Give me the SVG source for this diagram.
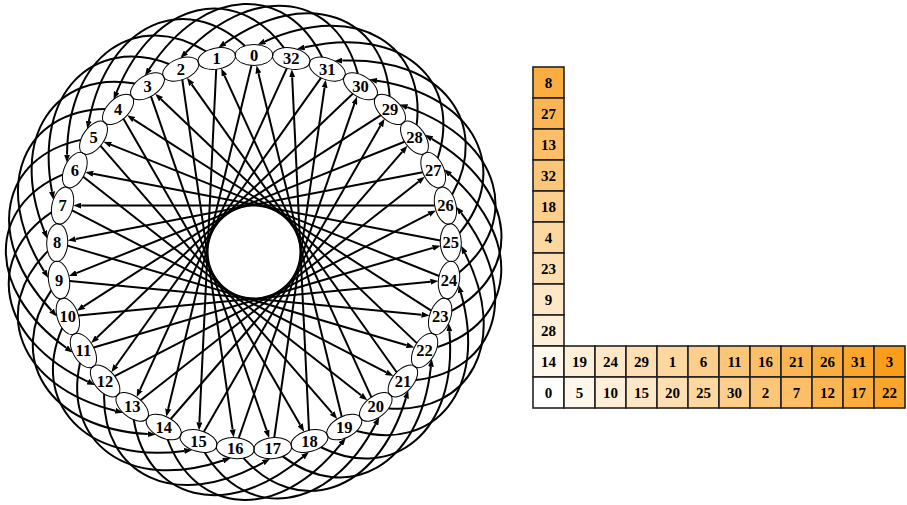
<svg xmlns="http://www.w3.org/2000/svg" width="907" height="505" viewBox="0 0 907 505">
<style>
.e{fill:none;stroke:#000;stroke-width:2;marker-end:url(#ah)}
.nd ellipse{fill:none;stroke:#000;stroke-width:1}
.n{font-family:"Liberation Serif","Times New Roman",serif;font-weight:bold;font-size:16.5px;text-anchor:middle;fill:#000}
.c rect{stroke:#222;stroke-width:1.6}
.t{font-family:"Liberation Serif","Times New Roman",serif;font-weight:bold;font-size:15px;text-anchor:middle;fill:#000}
.d0{fill:#FFFFFF}.d1{fill:#FFF7EC}.d2{fill:#FEEFD9}.d3{fill:#FEE7C6}.d4{fill:#FDDFB3}.d5{fill:#FDD7A0}.d6{fill:#FDCE8C}.d7{fill:#FCC679}.d8{fill:#FCBE66}.d9{fill:#FBB653}.d10{fill:#FBAE40}.d11{fill:#FAA62D}.d12{fill:#FA9E1A}
</style>
<defs>
<marker id="ah" markerWidth="8" markerHeight="6" refX="0" refY="3" orient="auto" markerUnits="userSpaceOnUse"><path d="M0,0L8,3L0,6z" fill="#000"/></marker>
</defs>
<rect width="907" height="505" fill="#fff"/>
<g id="connectors">
<path class="e" d="M251.47,65.41L168.15,408.92" transform="rotate(0 254 252)"/>
<path class="e" d="M251.47,65.41L168.15,408.92" transform="rotate(-10.9091 254 252)"/>
<path class="e" d="M251.47,65.41L168.15,408.92" transform="rotate(-21.8182 254 252)"/>
<path class="e" d="M251.47,65.41L168.15,408.92" transform="rotate(-32.7273 254 252)"/>
<path class="e" d="M251.47,65.41L168.15,408.92" transform="rotate(-43.6364 254 252)"/>
<path class="e" d="M251.47,65.41L168.15,408.92" transform="rotate(-54.5455 254 252)"/>
<path class="e" d="M251.47,65.41L168.15,408.92" transform="rotate(-65.4545 254 252)"/>
<path class="e" d="M251.47,65.41L168.15,408.92" transform="rotate(-76.3636 254 252)"/>
<path class="e" d="M251.47,65.41L168.15,408.92" transform="rotate(-87.2727 254 252)"/>
<path class="e" d="M251.47,65.41L168.15,408.92" transform="rotate(-98.1818 254 252)"/>
<path class="e" d="M251.47,65.41L168.15,408.92" transform="rotate(-109.0909 254 252)"/>
<path class="e" d="M251.47,65.41L168.15,408.92" transform="rotate(-120 254 252)"/>
<path class="e" d="M251.47,65.41L168.15,408.92" transform="rotate(-130.9091 254 252)"/>
<path class="e" d="M251.47,65.41L168.15,408.92" transform="rotate(-141.8182 254 252)"/>
<path class="e" d="M251.47,65.41L168.15,408.92" transform="rotate(-152.7273 254 252)"/>
<path class="e" d="M251.47,65.41L168.15,408.92" transform="rotate(-163.6364 254 252)"/>
<path class="e" d="M251.47,65.41L168.15,408.92" transform="rotate(-174.5455 254 252)"/>
<path class="e" d="M251.47,65.41L168.15,408.92" transform="rotate(-185.4545 254 252)"/>
<path class="e" d="M251.47,65.41L168.15,408.92" transform="rotate(-196.3636 254 252)"/>
<path class="e" d="M251.47,65.41L168.15,408.92" transform="rotate(-207.2727 254 252)"/>
<path class="e" d="M251.47,65.41L168.15,408.92" transform="rotate(-218.1818 254 252)"/>
<path class="e" d="M251.47,65.41L168.15,408.92" transform="rotate(-229.0909 254 252)"/>
<path class="e" d="M251.47,65.41L168.15,408.92" transform="rotate(-240 254 252)"/>
<path class="e" d="M251.47,65.41L168.15,408.92" transform="rotate(-250.9091 254 252)"/>
<path class="e" d="M251.47,65.41L168.15,408.92" transform="rotate(-261.8182 254 252)"/>
<path class="e" d="M251.47,65.41L168.15,408.92" transform="rotate(-272.7273 254 252)"/>
<path class="e" d="M251.47,65.41L168.15,408.92" transform="rotate(-283.6364 254 252)"/>
<path class="e" d="M251.47,65.41L168.15,408.92" transform="rotate(-294.5455 254 252)"/>
<path class="e" d="M251.47,65.41L168.15,408.92" transform="rotate(-305.4545 254 252)"/>
<path class="e" d="M251.47,65.41L168.15,408.92" transform="rotate(-316.3636 254 252)"/>
<path class="e" d="M251.47,65.41L168.15,408.92" transform="rotate(-327.2727 254 252)"/>
<path class="e" d="M251.47,65.41L168.15,408.92" transform="rotate(-338.1818 254 252)"/>
<path class="e" d="M251.47,65.41L168.15,408.92" transform="rotate(-349.0909 254 252)"/>
<path class="e" d="M244.82,45.8C185.84,-8.25 109.09,21.03 88.84,121" transform="rotate(0 254 252)"/>
<path class="e" d="M244.82,45.8C185.84,-8.25 109.09,21.03 88.84,121" transform="rotate(-10.9091 254 252)"/>
<path class="e" d="M244.82,45.8C185.84,-8.25 109.09,21.03 88.84,121" transform="rotate(-21.8182 254 252)"/>
<path class="e" d="M244.82,45.8C185.84,-8.25 109.09,21.03 88.84,121" transform="rotate(-32.7273 254 252)"/>
<path class="e" d="M244.82,45.8C185.84,-8.25 109.09,21.03 88.84,121" transform="rotate(-43.6364 254 252)"/>
<path class="e" d="M244.82,45.8C185.84,-8.25 109.09,21.03 88.84,121" transform="rotate(-54.5455 254 252)"/>
<path class="e" d="M244.82,45.8C185.84,-8.25 109.09,21.03 88.84,121" transform="rotate(-65.4545 254 252)"/>
<path class="e" d="M244.82,45.8C185.84,-8.25 109.09,21.03 88.84,121" transform="rotate(-76.3636 254 252)"/>
<path class="e" d="M244.82,45.8C185.84,-8.25 109.09,21.03 88.84,121" transform="rotate(-87.2727 254 252)"/>
<path class="e" d="M244.82,45.8C185.84,-8.25 109.09,21.03 88.84,121" transform="rotate(-98.1818 254 252)"/>
<path class="e" d="M244.82,45.8C185.84,-8.25 109.09,21.03 88.84,121" transform="rotate(-109.0909 254 252)"/>
<path class="e" d="M244.82,45.8C185.84,-8.25 109.09,21.03 88.84,121" transform="rotate(-120 254 252)"/>
<path class="e" d="M244.82,45.8C185.84,-8.25 109.09,21.03 88.84,121" transform="rotate(-130.9091 254 252)"/>
<path class="e" d="M244.82,45.8C185.84,-8.25 109.09,21.03 88.84,121" transform="rotate(-141.8182 254 252)"/>
<path class="e" d="M244.82,45.8C185.84,-8.25 109.09,21.03 88.84,121" transform="rotate(-152.7273 254 252)"/>
<path class="e" d="M244.82,45.8C185.84,-8.25 109.09,21.03 88.84,121" transform="rotate(-163.6364 254 252)"/>
<path class="e" d="M244.82,45.8C185.84,-8.25 109.09,21.03 88.84,121" transform="rotate(-174.5455 254 252)"/>
<path class="e" d="M244.82,45.8C185.84,-8.25 109.09,21.03 88.84,121" transform="rotate(-185.4545 254 252)"/>
<path class="e" d="M244.82,45.8C185.84,-8.25 109.09,21.03 88.84,121" transform="rotate(-196.3636 254 252)"/>
<path class="e" d="M244.82,45.8C185.84,-8.25 109.09,21.03 88.84,121" transform="rotate(-207.2727 254 252)"/>
<path class="e" d="M244.82,45.8C185.84,-8.25 109.09,21.03 88.84,121" transform="rotate(-218.1818 254 252)"/>
<path class="e" d="M244.82,45.8C185.84,-8.25 109.09,21.03 88.84,121" transform="rotate(-229.0909 254 252)"/>
<path class="e" d="M244.82,45.8C185.84,-8.25 109.09,21.03 88.84,121" transform="rotate(-240 254 252)"/>
<path class="e" d="M244.82,45.8C185.84,-8.25 109.09,21.03 88.84,121" transform="rotate(-250.9091 254 252)"/>
<path class="e" d="M244.82,45.8C185.84,-8.25 109.09,21.03 88.84,121" transform="rotate(-261.8182 254 252)"/>
<path class="e" d="M244.82,45.8C185.84,-8.25 109.09,21.03 88.84,121" transform="rotate(-272.7273 254 252)"/>
<path class="e" d="M244.82,45.8C185.84,-8.25 109.09,21.03 88.84,121" transform="rotate(-283.6364 254 252)"/>
<path class="e" d="M244.82,45.8C185.84,-8.25 109.09,21.03 88.84,121" transform="rotate(-294.5455 254 252)"/>
<path class="e" d="M244.82,45.8C185.84,-8.25 109.09,21.03 88.84,121" transform="rotate(-305.4545 254 252)"/>
<path class="e" d="M244.82,45.8C185.84,-8.25 109.09,21.03 88.84,121" transform="rotate(-316.3636 254 252)"/>
<path class="e" d="M244.82,45.8C185.84,-8.25 109.09,21.03 88.84,121" transform="rotate(-327.2727 254 252)"/>
<path class="e" d="M244.82,45.8C185.84,-8.25 109.09,21.03 88.84,121" transform="rotate(-338.1818 254 252)"/>
<path class="e" d="M244.82,45.8C185.84,-8.25 109.09,21.03 88.84,121" transform="rotate(-349.0909 254 252)"/>
</g>
<g id="nodes">
<g id="node-0" class="nd"><ellipse cx="254" cy="55" rx="19" ry="10.5" transform="rotate(0 254 252)"/><text class="n" x="254" y="60.5">0</text></g>
<g id="node-1" class="nd"><ellipse cx="254" cy="55" rx="19" ry="10.5" transform="rotate(-10.9091 254 252)"/><text class="n" x="216.7" y="64.1">1</text></g>
<g id="node-2" class="nd"><ellipse cx="254" cy="55" rx="19" ry="10.5" transform="rotate(-21.8182 254 252)"/><text class="n" x="180.8" y="74.6">2</text></g>
<g id="node-3" class="nd"><ellipse cx="254" cy="55" rx="19" ry="10.5" transform="rotate(-32.7273 254 252)"/><text class="n" x="147.5" y="91.8">3</text></g>
<g id="node-4" class="nd"><ellipse cx="254" cy="55" rx="19" ry="10.5" transform="rotate(-43.6364 254 252)"/><text class="n" x="118.1" y="114.9">4</text></g>
<g id="node-5" class="nd"><ellipse cx="254" cy="55" rx="19" ry="10.5" transform="rotate(-54.5455 254 252)"/><text class="n" x="93.5" y="143.2">5</text></g>
<g id="node-6" class="nd"><ellipse cx="254" cy="55" rx="19" ry="10.5" transform="rotate(-65.4545 254 252)"/><text class="n" x="74.8" y="175.7">6</text></g>
<g id="node-7" class="nd"><ellipse cx="254" cy="55" rx="19" ry="10.5" transform="rotate(-76.3636 254 252)"/><text class="n" x="62.6" y="211.1">7</text></g>
<g id="node-8" class="nd"><ellipse cx="254" cy="55" rx="19" ry="10.5" transform="rotate(-87.2727 254 252)"/><text class="n" x="57.2" y="248.1">8</text></g>
<g id="node-9" class="nd"><ellipse cx="254" cy="55" rx="19" ry="10.5" transform="rotate(-98.1818 254 252)"/><text class="n" x="59" y="285.5">9</text></g>
<g id="node-10" class="nd"><ellipse cx="254" cy="55" rx="19" ry="10.5" transform="rotate(-109.0909 254 252)"/><text class="n" x="67.8" y="321.9">10</text></g>
<g id="node-11" class="nd"><ellipse cx="254" cy="55" rx="19" ry="10.5" transform="rotate(-120 254 252)"/><text class="n" x="83.4" y="356">11</text></g>
<g id="node-12" class="nd"><ellipse cx="254" cy="55" rx="19" ry="10.5" transform="rotate(-130.9091 254 252)"/><text class="n" x="105.1" y="386.5">12</text></g>
<g id="node-13" class="nd"><ellipse cx="254" cy="55" rx="19" ry="10.5" transform="rotate(-141.8182 254 252)"/><text class="n" x="132.2" y="412.3">13</text></g>
<g id="node-14" class="nd"><ellipse cx="254" cy="55" rx="19" ry="10.5" transform="rotate(-152.7273 254 252)"/><text class="n" x="163.7" y="432.6">14</text></g>
<g id="node-15" class="nd"><ellipse cx="254" cy="55" rx="19" ry="10.5" transform="rotate(-163.6364 254 252)"/><text class="n" x="198.5" y="446.5">15</text></g>
<g id="node-16" class="nd"><ellipse cx="254" cy="55" rx="19" ry="10.5" transform="rotate(-174.5455 254 252)"/><text class="n" x="235.3" y="453.6">16</text></g>
<g id="node-17" class="nd"><ellipse cx="254" cy="55" rx="19" ry="10.5" transform="rotate(-185.4545 254 252)"/><text class="n" x="272.7" y="453.6">17</text></g>
<g id="node-18" class="nd"><ellipse cx="254" cy="55" rx="19" ry="10.5" transform="rotate(-196.3636 254 252)"/><text class="n" x="309.5" y="446.5">18</text></g>
<g id="node-19" class="nd"><ellipse cx="254" cy="55" rx="19" ry="10.5" transform="rotate(-207.2727 254 252)"/><text class="n" x="344.3" y="432.6">19</text></g>
<g id="node-20" class="nd"><ellipse cx="254" cy="55" rx="19" ry="10.5" transform="rotate(-218.1818 254 252)"/><text class="n" x="375.8" y="412.3">20</text></g>
<g id="node-21" class="nd"><ellipse cx="254" cy="55" rx="19" ry="10.5" transform="rotate(-229.0909 254 252)"/><text class="n" x="402.9" y="386.5">21</text></g>
<g id="node-22" class="nd"><ellipse cx="254" cy="55" rx="19" ry="10.5" transform="rotate(-240 254 252)"/><text class="n" x="424.6" y="356">22</text></g>
<g id="node-23" class="nd"><ellipse cx="254" cy="55" rx="19" ry="10.5" transform="rotate(-250.9091 254 252)"/><text class="n" x="440.2" y="321.9">23</text></g>
<g id="node-24" class="nd"><ellipse cx="254" cy="55" rx="19" ry="10.5" transform="rotate(-261.8182 254 252)"/><text class="n" x="449" y="285.5">24</text></g>
<g id="node-25" class="nd"><ellipse cx="254" cy="55" rx="19" ry="10.5" transform="rotate(-272.7273 254 252)"/><text class="n" x="450.8" y="248.1">25</text></g>
<g id="node-26" class="nd"><ellipse cx="254" cy="55" rx="19" ry="10.5" transform="rotate(-283.6364 254 252)"/><text class="n" x="445.4" y="211.1">26</text></g>
<g id="node-27" class="nd"><ellipse cx="254" cy="55" rx="19" ry="10.5" transform="rotate(-294.5455 254 252)"/><text class="n" x="433.2" y="175.7">27</text></g>
<g id="node-28" class="nd"><ellipse cx="254" cy="55" rx="19" ry="10.5" transform="rotate(-305.4545 254 252)"/><text class="n" x="414.5" y="143.2">28</text></g>
<g id="node-29" class="nd"><ellipse cx="254" cy="55" rx="19" ry="10.5" transform="rotate(-316.3636 254 252)"/><text class="n" x="389.9" y="114.9">29</text></g>
<g id="node-30" class="nd"><ellipse cx="254" cy="55" rx="19" ry="10.5" transform="rotate(-327.2727 254 252)"/><text class="n" x="360.5" y="91.8">30</text></g>
<g id="node-31" class="nd"><ellipse cx="254" cy="55" rx="19" ry="10.5" transform="rotate(-338.1818 254 252)"/><text class="n" x="327.2" y="74.6">31</text></g>
<g id="node-32" class="nd"><ellipse cx="254" cy="55" rx="19" ry="10.5" transform="rotate(-349.0909 254 252)"/><text class="n" x="291.3" y="64.1">32</text></g>
</g>
<g id="grid">
<g id="cell-8" class="c"><rect class="d10" x="533" y="67" width="31" height="31"/><text class="t" x="548.5" y="87.5">8</text></g>
<g id="cell-27" class="c"><rect class="d9" x="533" y="98" width="31" height="31"/><text class="t" x="548.5" y="118.5">27</text></g>
<g id="cell-13" class="c"><rect class="d8" x="533" y="129" width="31" height="31"/><text class="t" x="548.5" y="149.5">13</text></g>
<g id="cell-32" class="c"><rect class="d7" x="533" y="160" width="31" height="31"/><text class="t" x="548.5" y="180.5">32</text></g>
<g id="cell-18" class="c"><rect class="d6" x="533" y="191" width="31" height="31"/><text class="t" x="548.5" y="211.5">18</text></g>
<g id="cell-4" class="c"><rect class="d5" x="533" y="222" width="31" height="31"/><text class="t" x="548.5" y="242.5">4</text></g>
<g id="cell-23" class="c"><rect class="d4" x="533" y="253" width="31" height="31"/><text class="t" x="548.5" y="273.5">23</text></g>
<g id="cell-9" class="c"><rect class="d3" x="533" y="284" width="31" height="31"/><text class="t" x="548.5" y="304.5">9</text></g>
<g id="cell-28" class="c"><rect class="d2" x="533" y="315" width="31" height="31"/><text class="t" x="548.5" y="335.5">28</text></g>
<g id="cell-14" class="c"><rect class="d1" x="533" y="346" width="31" height="31"/><text class="t" x="548.5" y="366.5">14</text></g>
<g id="cell-19" class="c"><rect class="d2" x="564" y="346" width="31" height="31"/><text class="t" x="579.5" y="366.5">19</text></g>
<g id="cell-24" class="c"><rect class="d3" x="595" y="346" width="31" height="31"/><text class="t" x="610.5" y="366.5">24</text></g>
<g id="cell-29" class="c"><rect class="d4" x="626" y="346" width="31" height="31"/><text class="t" x="641.5" y="366.5">29</text></g>
<g id="cell-1" class="c"><rect class="d5" x="657" y="346" width="31" height="31"/><text class="t" x="672.5" y="366.5">1</text></g>
<g id="cell-6" class="c"><rect class="d6" x="688" y="346" width="31" height="31"/><text class="t" x="703.5" y="366.5">6</text></g>
<g id="cell-11" class="c"><rect class="d7" x="719" y="346" width="31" height="31"/><text class="t" x="734.5" y="366.5">11</text></g>
<g id="cell-16" class="c"><rect class="d8" x="750" y="346" width="31" height="31"/><text class="t" x="765.5" y="366.5">16</text></g>
<g id="cell-21" class="c"><rect class="d9" x="781" y="346" width="31" height="31"/><text class="t" x="796.5" y="366.5">21</text></g>
<g id="cell-26" class="c"><rect class="d10" x="812" y="346" width="31" height="31"/><text class="t" x="827.5" y="366.5">26</text></g>
<g id="cell-31" class="c"><rect class="d11" x="843" y="346" width="31" height="31"/><text class="t" x="858.5" y="366.5">31</text></g>
<g id="cell-3" class="c"><rect class="d12" x="874" y="346" width="31" height="31"/><text class="t" x="889.5" y="366.5">3</text></g>
<g id="cell-0" class="c"><rect class="d0" x="533" y="377" width="31" height="31"/><text class="t" x="548.5" y="397.5">0</text></g>
<g id="cell-5" class="c"><rect class="d1" x="564" y="377" width="31" height="31"/><text class="t" x="579.5" y="397.5">5</text></g>
<g id="cell-10" class="c"><rect class="d2" x="595" y="377" width="31" height="31"/><text class="t" x="610.5" y="397.5">10</text></g>
<g id="cell-15" class="c"><rect class="d3" x="626" y="377" width="31" height="31"/><text class="t" x="641.5" y="397.5">15</text></g>
<g id="cell-20" class="c"><rect class="d4" x="657" y="377" width="31" height="31"/><text class="t" x="672.5" y="397.5">20</text></g>
<g id="cell-25" class="c"><rect class="d5" x="688" y="377" width="31" height="31"/><text class="t" x="703.5" y="397.5">25</text></g>
<g id="cell-30" class="c"><rect class="d6" x="719" y="377" width="31" height="31"/><text class="t" x="734.5" y="397.5">30</text></g>
<g id="cell-2" class="c"><rect class="d7" x="750" y="377" width="31" height="31"/><text class="t" x="765.5" y="397.5">2</text></g>
<g id="cell-7" class="c"><rect class="d8" x="781" y="377" width="31" height="31"/><text class="t" x="796.5" y="397.5">7</text></g>
<g id="cell-12" class="c"><rect class="d9" x="812" y="377" width="31" height="31"/><text class="t" x="827.5" y="397.5">12</text></g>
<g id="cell-17" class="c"><rect class="d10" x="843" y="377" width="31" height="31"/><text class="t" x="858.5" y="397.5">17</text></g>
<g id="cell-22" class="c"><rect class="d11" x="874" y="377" width="31" height="31"/><text class="t" x="889.5" y="397.5">22</text></g>
</g>
</svg>
